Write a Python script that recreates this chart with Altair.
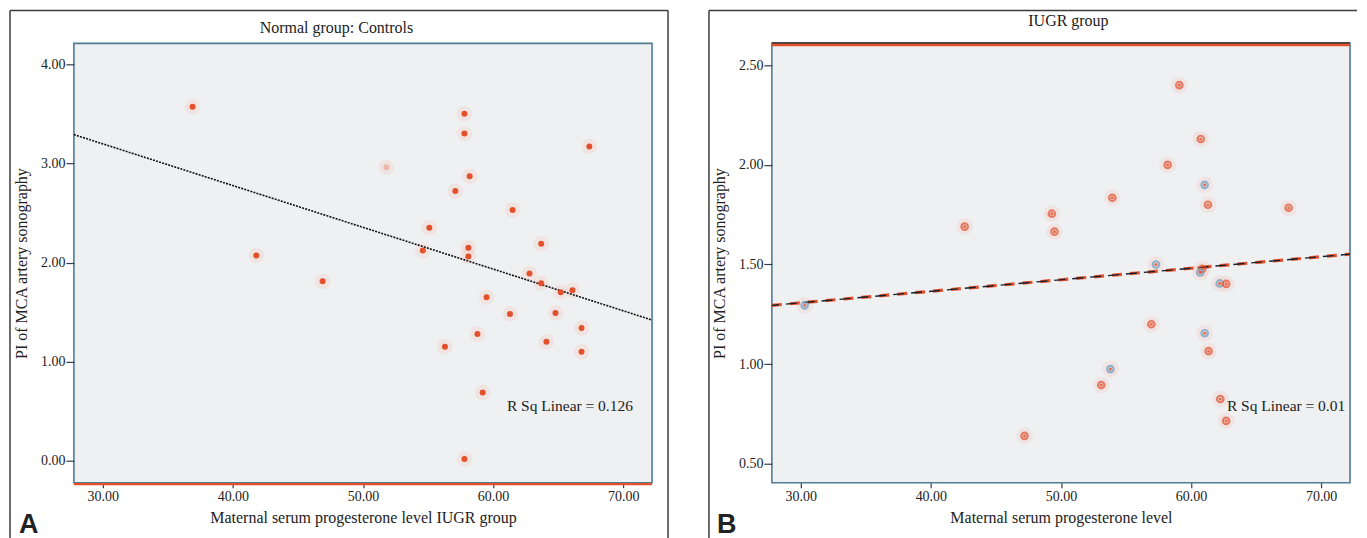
import altair as alt
import pandas as pd

# ---------------- data ----------------
# Panel A: Normal group (controls)
a_x = [36.9, 57.8, 57.8, 67.4, 51.8, 58.2, 57.1, 55.1, 61.5, 63.7, 41.8, 46.9,
       58.1, 58.1, 54.6, 62.8, 63.7, 65.2, 66.1, 59.5, 61.3, 64.8, 66.8, 58.8,
       56.3, 64.1, 66.8, 59.2, 57.8]
a_y = [3.57, 3.50, 3.30, 3.17, 2.96, 2.87, 2.72, 2.35, 2.53, 2.19, 2.07, 1.81,
       2.15, 2.06, 2.12, 1.89, 1.79, 1.70, 1.72, 1.65, 1.48, 1.49, 1.34, 1.28,
       1.15, 1.20, 1.10, 0.69, 0.02]
a_alpha = [1, 1, 1, 1, 0.3, 1, 1, 1, 1, 1, 1, 1, 1, 1, 1, 1, 1, 1, 1, 1, 1, 1,
           1, 1, 1, 1, 1, 1, 1]
a_fit_x = [27.78, 72.22]
a_fit_y = [3.29, 1.42]

# Panel B: IUGR group
b_x = [59.1, 60.75, 58.2, 61.05, 61.3, 67.5, 53.95, 49.3, 49.5, 42.6, 57.3,
       60.85, 60.7, 62.2, 62.7, 30.3, 56.95, 61.05, 61.35, 53.8, 53.1, 62.25,
       62.7, 47.2]
b_y = [2.40, 2.13, 2.00, 1.90, 1.80, 1.785, 1.835, 1.755, 1.665, 1.69, 1.50,
       1.478, 1.46, 1.405, 1.403, 1.295, 1.20, 1.155, 1.065, 0.975, 0.895,
       0.825, 0.715, 0.64]
b_tone = ["red", "red", "red", "blue", "red", "red", "red", "red", "red", "red",
          "blue", "red", "blue", "blue", "red", "blue", "red", "blue", "red",
          "blue", "red", "red", "red", "red"]
b_fit_x = [27.78, 72.22]
b_fit_y = [1.295, 1.552]

x_ticks = [30, 40, 50, 60, 70]
a_y_ticks = [0, 1, 2, 3, 4]
b_y_ticks = [0.5, 1.0, 1.5, 2.0, 2.5]
titles = ["Normal group: Controls", "IUGR group"]
x_titles = ["Maternal serum progesterone level IUGR group",
            "Maternal serum progesterone level"]
y_title = "PI of  MCA artery sonography"
letters = ["A", "B"]
notes = ["R Sq Linear = 0.126", "R Sq Linear = 0.01"]
note_x = [70.75, 71.85]
note_y = [0.55, 0.79]

# ---------------- styling ----------------
W, H = 579, 440
BG = "#eef0f2"
BLUE = "#4f7d96"
RED = "#e2502c"
PINK = "#f3b3a0"
INK = "#222222"
SERIF = "Liberation Serif"
X_DOM = [27.78, 72.22]
LBL = 14
TTL = 16

one = pd.DataFrame({"k": [0]})


def frame_rule(**kw):
    return alt.Chart(one).mark_rule(color="#3c3c3c", strokeWidth=1.5).encode(**kw)


def label_text(txt, xpx, ypx, size, weight="normal", font=SERIF, align="center",
               baseline="middle"):
    return alt.Chart(one).mark_text(text=txt, align=align, baseline=baseline,
                                    font=font, fontSize=size, fontWeight=weight,
                                    color=INK).encode(x=alt.value(xpx),
                                                      y=alt.value(ypx))


def axis_x(title):
    return alt.Axis(values=x_ticks, format=".2f", grid=False, domain=False,
                    tickSize=5, tickColor="#2f3e4e", tickWidth=1.2,
                    labelFont=SERIF, labelFontSize=LBL, labelColor=INK,
                    labelPadding=2, title=title, titleFont=SERIF,
                    titleFontSize=TTL, titleFontWeight="normal", titleColor=INK,
                    titlePadding=6)


def axis_y(vals):
    return alt.Axis(values=vals, format=".2f", grid=False, domain=False,
                    tickSize=8, tickColor="#2f3e4e", tickWidth=1.2,
                    labelFont=SERIF, labelFontSize=LBL, labelColor=INK,
                    labelPadding=1, title=y_title, titleFont=SERIF,
                    titleFontSize=TTL, titleFontWeight="normal", titleColor=INK,
                    titlePadding=11)


# ---------------- panel A ----------------
a_df = pd.DataFrame({"x": a_x, "y": a_y, "a": a_alpha})
a_fit = pd.DataFrame({"x": a_fit_x, "y": a_fit_y})
a_note = pd.DataFrame({"x": [note_x[0]], "y": [note_y[0]], "t": [notes[0]]})
a_xs = alt.Scale(domain=X_DOM, nice=False, zero=False)
a_ys = alt.Scale(domain=[-0.22, 4.21], nice=False, zero=False)

a_halo = alt.Chart(a_df).mark_circle(size=240, color=PINK, opacity=0.2).encode(
    x=alt.X("x:Q", scale=a_xs, axis=axis_x(x_titles[0])),
    y=alt.Y("y:Q", scale=a_ys, axis=axis_y(a_y_ticks)),
)
a_pts = alt.Chart(a_df).mark_circle(size=36, color=RED).encode(
    x=alt.X("x:Q", scale=a_xs), y=alt.Y("y:Q", scale=a_ys),
    opacity=alt.Opacity("a:Q", scale=None, legend=None),
)
a_line = alt.Chart(a_fit).mark_line(color="#111111", strokeWidth=1.6,
                                    strokeDash=[2, 1.2]).encode(
    x=alt.X("x:Q", scale=a_xs), y=alt.Y("y:Q", scale=a_ys))
a_txt = alt.Chart(a_note).mark_text(align="right", baseline="middle", font=SERIF,
                                    fontSize=15.5, color=INK).encode(
    x=alt.X("x:Q", scale=a_xs), y=alt.Y("y:Q", scale=a_ys), text="t:N")
a_red = alt.Chart(one).mark_rule(color=RED, strokeWidth=2.2).encode(
    x=alt.value(0), x2=alt.value(W), y=alt.value(H + 1.5))

panel_a = alt.layer(
    a_halo, a_line, a_pts, a_txt, a_red,
    frame_rule(x=alt.value(-64), x2=alt.value(595), y=alt.value(-33)),
    frame_rule(x=alt.value(-64), y=alt.value(-33), y2=alt.value(H + 56)),
    frame_rule(x=alt.value(595), y=alt.value(-33), y2=alt.value(H + 56)),
    label_text(titles[0], 263, -15, TTL),
    label_text(letters[0], -55, H + 56, 27, weight="bold", font="Liberation Sans",
               align="left", baseline="bottom"),
).properties(width=W, height=H)

# ---------------- panel B ----------------
b_df = pd.DataFrame({"x": b_x, "y": b_y, "tone": b_tone})
b_fit = pd.DataFrame({"x": b_fit_x, "y": b_fit_y})
b_note = pd.DataFrame({"x": [note_x[1]], "y": [note_y[1]], "t": [notes[1]]})
b_xs = alt.Scale(domain=X_DOM, nice=False, zero=False)
b_ys = alt.Scale(domain=[0.405, 2.61], nice=False, zero=False)

b_halo = alt.Chart(b_df).mark_circle(size=280, color=PINK, opacity=0.18).encode(
    x=alt.X("x:Q", scale=b_xs, axis=axis_x(x_titles[1])),
    y=alt.Y("y:Q", scale=b_ys, axis=axis_y(b_y_ticks)),
)
b_pts = alt.Chart(b_df).mark_point(size=42, filled=False, strokeWidth=2.2).encode(
    x=alt.X("x:Q", scale=b_xs), y=alt.Y("y:Q", scale=b_ys),
    color=alt.Color("tone:N", scale=alt.Scale(domain=["red", "blue"],
                                              range=[RED, "#6a9cc0"]),
                    legend=None),
)
b_core = alt.Chart(b_df).mark_circle(size=10, color=RED, opacity=0.8).encode(
    x=alt.X("x:Q", scale=b_xs), y=alt.Y("y:Q", scale=b_ys))
b_line_red = alt.Chart(b_fit).mark_line(color=RED, strokeWidth=3.2,
                                        strokeDash=[10, 8]).encode(
    x=alt.X("x:Q", scale=b_xs), y=alt.Y("y:Q", scale=b_ys))
b_line = alt.Chart(b_fit).mark_line(color="#14202c", strokeWidth=1.4,
                                    strokeDash=[11, 7], strokeDashOffset=4).encode(
    x=alt.X("x:Q", scale=b_xs), y=alt.Y("y:Q", scale=b_ys))
b_txt = alt.Chart(b_note).mark_text(align="right", baseline="middle", font=SERIF,
                                    fontSize=15.5, color=INK).encode(
    x=alt.X("x:Q", scale=b_xs), y=alt.Y("y:Q", scale=b_ys), text="t:N")
b_red = alt.Chart(one).mark_rule(color=RED, strokeWidth=3).encode(
    x=alt.value(0), x2=alt.value(W), y=alt.value(1.5))
b_black = alt.Chart(one).mark_rule(color="#222222", strokeWidth=1.2).encode(
    x=alt.value(0), x2=alt.value(W), y=alt.value(-0.5))

panel_b = alt.layer(
    b_halo, b_line_red, b_line, b_core, b_pts, b_txt, b_red, b_black,
    frame_rule(x=alt.value(-63), x2=alt.value(586), y=alt.value(-33)),
    frame_rule(x=alt.value(-63), y=alt.value(-33), y2=alt.value(H + 56)),
    label_text(titles[1], 297, -22, TTL),
    label_text(letters[1], -55, H + 56, 27, weight="bold", font="Liberation Sans",
               align="left", baseline="bottom"),
).properties(width=W, height=H)

chart = alt.hconcat(panel_a, panel_b, spacing=120, bounds="flush").configure_view(
    stroke=BLUE, strokeWidth=1.6, fill=BG
).properties(
    padding={"left": 0, "top": 0, "right": 0, "bottom": 0},
    background="white",
)

chart.save("out.html", embed_options={"renderer": "svg", "actions": False})
